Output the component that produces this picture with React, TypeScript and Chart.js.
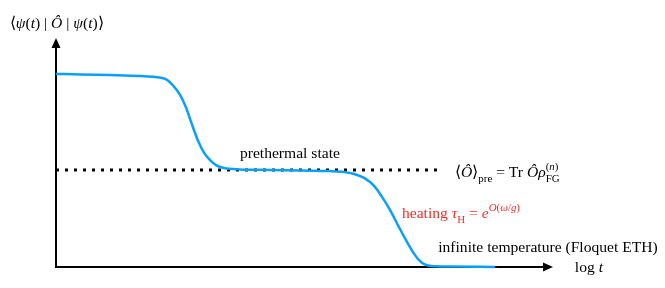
import React, { useEffect, useRef } from "react";
import { Chart, registerables } from "chart.js";

Chart.register(...registerables);

// Schematic curve (x = log t, y = expectation value)
const curveX = [0, 0.5, 1.1, 1.7, 2.0, 2.2, 2.33, 2.5, 2.62, 2.74, 2.86, 2.98, 3.1, 3.22, 3.38, 3.7, 4.3, 4.9, 5.5, 5.8, 6.0, 6.2, 6.4, 6.56, 6.72, 6.88, 7.04, 7.18, 7.3, 7.42, 7.56, 7.93, 8.83];
const curveY = [0.843, 0.841, 0.838, 0.834, 0.83, 0.821, 0.799, 0.751, 0.694, 0.62, 0.55, 0.498, 0.467, 0.445, 0.432, 0.426, 0.424, 0.421, 0.419, 0.415, 0.406, 0.389, 0.354, 0.306, 0.249, 0.183, 0.118, 0.066, 0.031, 0.011, 0.004, 0.002, 0];

// Prethermal plateau (dotted reference level)
const plateauX = [0, 7.73];
const plateauY = [0.424, 0.424];

const xRange = [0, 10];
const yRange = [0, 1];

const SERIF = '"Liberation Serif", "Times New Roman", serif';
const BASE = 15.6;

type Run = {
  t?: string;
  italic?: boolean;
  size?: number;
  dy?: number;
  sub?: Run[];
  sup?: Run[];
};

function runsWidth(ctx: CanvasRenderingContext2D, runs: Run[], base: number): number {
  let w = 0;
  for (const r of runs) w += runWidth(ctx, r, base);
  return w;
}
function runWidth(ctx: CanvasRenderingContext2D, r: Run, base: number): number {
  if (r.sub || r.sup) {
    const small = base * 0.7;
    const a = r.sub ? runsWidth(ctx, r.sub, small) : 0;
    const b = r.sup ? runsWidth(ctx, r.sup, small) : 0;
    return Math.max(a, b);
  }
  const size = r.size || base;
  ctx.font = `${r.italic ? "italic " : ""}${size}px ${SERIF}`;
  return ctx.measureText(r.t || "").width;
}
function drawRuns(ctx: CanvasRenderingContext2D, x: number, y: number, runs: Run[], base: number) {
  let cx = x;
  for (const r of runs) {
    if (r.sub || r.sup) {
      const small = base * 0.7;
      if (r.sub) drawRuns(ctx, cx, y + base * 0.3, r.sub, small);
      if (r.sup) drawRuns(ctx, cx, y - base * 0.45, r.sup, small);
      cx += runWidth(ctx, r, base);
      continue;
    }
    const size = r.size || base;
    ctx.font = `${r.italic ? "italic " : ""}${size}px ${SERIF}`;
    ctx.fillText(r.t || "", cx, y + (r.dy || 0));
    cx += ctx.measureText(r.t || "").width;
  }
}

type Note = { x: number; y: number; color: string; runs: Run[] };

const notes: Note[] = [
  {
    x: -0.93, y: 1.044, color: "#000",
    runs: [
      { t: "⟨" }, { t: "ψ", italic: true }, { t: "(" }, { t: "t", italic: true }, { t: ") | " },
      { t: "Ô", italic: true }, { t: " | " }, { t: "ψ", italic: true }, { t: "(" }, { t: "t", italic: true }, { t: ")⟩" },
    ],
  },
  { x: 3.7, y: 0.476, color: "#000", runs: [{ t: "prethermal state" }] },
  {
    x: 8.03, y: 0.393, color: "#000",
    runs: [
      { t: "⟨" }, { t: "Ô", italic: true }, { t: "⟩" }, { sub: [{ t: "pre" }] },
      { t: " = Tr " }, { t: "Ô", italic: true }, { t: "ρ", italic: true },
      { sub: [{ t: "FG" }], sup: [{ t: "(" }, { t: "n", italic: true }, { t: ")" }] },
    ],
  },
  {
    x: 6.96, y: 0.214, color: "#ee2d24",
    runs: [
      { t: "heating " }, { t: "τ", italic: true }, { sub: [{ t: "H" }] }, { t: " = " }, { t: "e", italic: true },
      { sup: [{ t: "O", italic: true }, { t: "(" }, { t: "ω", italic: true }, { t: "/" }, { t: "g", italic: true }, { t: ")" }] },
    ],
  },
  { x: 7.69, y: 0.0655, color: "#000", runs: [{ t: "infinite temperature (Floquet ETH)" }] },
  { x: 10.44, y: -0.022, color: "#000", runs: [{ t: "log " }, { t: "t", italic: true }] },
];

const schematicPlugin = {
  id: "schematic",
  beforeDatasetsDraw(chart: any) {
    const { ctx, chartArea } = chart;
    const { left, right, top, bottom } = chartArea;
    ctx.save();
    ctx.strokeStyle = "#000";
    ctx.fillStyle = "#000";
    ctx.lineWidth = 2;
    // y axis
    ctx.beginPath();
    ctx.moveTo(left, bottom + 1);
    ctx.lineTo(left, top + 8);
    ctx.stroke();
    ctx.beginPath();
    ctx.moveTo(left, top);
    ctx.lineTo(left - 4.5, top + 10);
    ctx.lineTo(left + 4.5, top + 10);
    ctx.closePath();
    ctx.fill();
    // x axis
    ctx.beginPath();
    ctx.moveTo(left - 1, bottom);
    ctx.lineTo(right - 8, bottom);
    ctx.stroke();
    ctx.beginPath();
    ctx.moveTo(right, bottom);
    ctx.lineTo(right - 10, bottom - 4.5);
    ctx.lineTo(right - 10, bottom + 4.5);
    ctx.closePath();
    ctx.fill();
    ctx.restore();
  },
  afterDraw(chart: any) {
    const { ctx } = chart;
    const xs = chart.scales.x;
    const ys = chart.scales.y;
    ctx.save();
    ctx.textBaseline = "alphabetic";
    ctx.textAlign = "left";
    for (const n of notes) {
      ctx.fillStyle = n.color;
      drawRuns(ctx, xs.getPixelForValue(n.x), ys.getPixelForValue(n.y), n.runs, BASE);
    }
    ctx.restore();
  },
};

export default function App() {
  const ref = useRef<HTMLCanvasElement | null>(null);
  useEffect(() => {
    if (!ref.current) return;
    const chart = new Chart(ref.current, {
      type: "line",
      data: {
        datasets: [
          {
            data: curveX.map((x, i) => ({ x, y: curveY[i] })),
            borderColor: "#0aa0fa",
            borderWidth: 2.5,
            pointRadius: 0,
            cubicInterpolationMode: "monotone",
            fill: false,
            clip: false as any,
            order: 0,
          },
          {
            data: plateauX.map((x, i) => ({ x, y: plateauY[i] })),
            borderColor: "#000",
            borderWidth: 3,
            borderDash: [3, 6],
            pointRadius: 0,
            fill: false,
            clip: false as any,
            order: 1,
          },
        ],
      },
      options: {
        responsive: false,
        animation: false,
        events: [],
        layout: { padding: { left: 48, right: 104, top: 30, bottom: 21 } },
        plugins: { legend: { display: false }, tooltip: { enabled: false }, title: { display: false } },
        scales: {
          x: { type: "linear", min: xRange[0], max: xRange[1], display: false },
          y: { type: "linear", min: yRange[0], max: yRange[1], display: false },
        },
      },
      plugins: [schematicPlugin],
    });
    return () => chart.destroy();
  }, []);
  return (
    <div style={{ width: 649, height: 280 }}>
      <canvas ref={ref} width={649} height={280} style={{ display: "block" }} />
    </div>
  );
}
